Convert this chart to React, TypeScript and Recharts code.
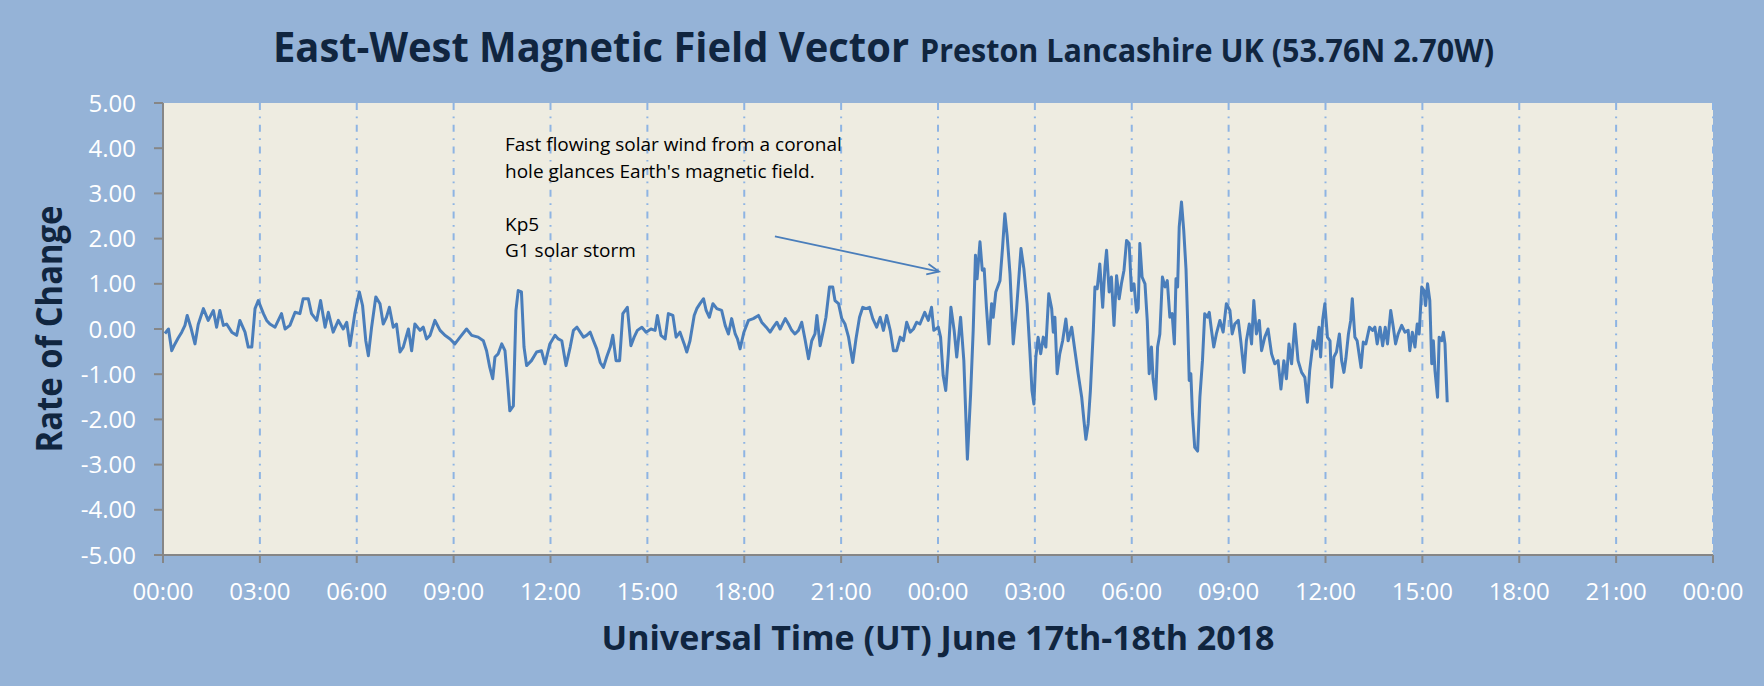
import React from 'react';
import { LineChart, Line, XAxis, YAxis, CartesianGrid, ReferenceLine } from 'recharts';

// hours since 00:00 UT on 17 June, and rate of change
const hoursA = [
  0.06, 0.17, 0.27, 0.37, 0.47, 0.58, 0.68, 0.75, 0.86, 0.99,
  1.09, 1.25, 1.4, 1.56, 1.66, 1.76, 1.87, 1.97, 2.13, 2.28,
  2.38, 2.54, 2.64, 2.75, 2.85, 2.95, 3.11, 3.21, 3.31, 3.47,
  3.67, 3.78, 3.93, 4.09, 4.24, 4.34, 4.5, 4.6, 4.76, 4.88,
  5.02, 5.12, 5.27, 5.43, 5.58, 5.69, 5.79, 5.94, 6.08, 6.18,
  6.28, 6.36, 6.46, 6.59, 6.72, 6.82, 6.92, 7.01, 7.13, 7.23,
  7.34, 7.44, 7.6, 7.7, 7.8, 7.96, 8.06, 8.16, 8.27, 8.42,
  8.58, 8.73, 8.89, 9.04, 9.2, 9.4, 9.56, 9.76, 9.92, 10.02,
  10.12, 10.21, 10.28, 10.38, 10.49, 10.59, 10.66, 10.74, 10.85, 10.93,
  11.0, 11.1, 11.18, 11.26, 11.41, 11.57, 11.72, 11.83, 11.98, 12.14,
  12.24,
];
const rateA = [
  -0.1, 0.0, -0.48, -0.33, -0.2, -0.07, 0.08, 0.3, 0.04, -0.33,
  0.1, 0.45, 0.19, 0.41, 0.04, 0.41, 0.08, 0.11, -0.07, -0.14,
  0.19, -0.07, -0.4, -0.4, 0.45, 0.63, 0.34, 0.19, 0.11, 0.04,
  0.34, 0.0, 0.08, 0.37, 0.34, 0.67, 0.67, 0.34, 0.19, 0.63,
  0.04, 0.37, -0.07, 0.19, 0.0, 0.15, -0.37, 0.34, 0.82, 0.52,
  -0.26, -0.59, 0.04, 0.71, 0.56, 0.11, 0.26, 0.48, 0.04, 0.11,
  -0.51, -0.4, 0.0, -0.48, 0.11, -0.03, 0.04, -0.22, -0.14, 0.19,
  -0.03, -0.14, -0.22, -0.33, -0.18, 0.0, -0.14, -0.18, -0.26, -0.48,
  -0.85, -1.1, -0.62, -0.55, -0.33, -0.48, -1.07, -1.81, -1.7, 0.41,
  0.85, 0.82, -0.4, -0.81, -0.7, -0.51, -0.48, -0.77, -0.33, -0.14,
  -0.22,
];

const hoursB = [
  12.35, 12.48, 12.61, 12.71, 12.82, 12.92, 13.02, 13.12, 13.23, 13.33,
  13.43, 13.54, 13.64, 13.74, 13.85, 13.93, 14.03, 14.14, 14.24, 14.38,
  14.49, 14.59, 14.69, 14.83, 14.96, 15.11, 15.24, 15.31, 15.42, 15.55,
  15.65, 15.79, 15.89, 16.01, 16.14, 16.22, 16.32, 16.45, 16.53, 16.63,
  16.74, 16.82, 16.92, 17.03, 17.15, 17.3, 17.41, 17.51, 17.61, 17.72,
  17.79, 17.87, 17.99, 18.13, 18.28, 18.44, 18.54, 18.68, 18.8, 18.9,
  19.01, 19.11, 19.27, 19.37, 19.47, 19.57, 19.68, 19.78, 19.88, 19.99,
  20.09, 20.19, 20.25, 20.35, 20.45, 20.53, 20.64, 20.74, 20.81, 20.92,
  21.02, 21.12, 21.23, 21.36, 21.46, 21.57, 21.67, 21.77, 21.88, 21.98,
  22.1, 22.21, 22.31, 22.41, 22.52, 22.62, 22.72, 22.83, 22.93, 23.03,
  23.14, 23.24, 23.34,
];
const rateB = [
  -0.26, -0.81, -0.4, -0.03, 0.04, -0.07, -0.18, -0.14, -0.07, -0.26,
  -0.44, -0.74, -0.85, -0.62, -0.4, -0.14, -0.7, -0.7, 0.34, 0.48,
  -0.37, -0.18, -0.03, 0.04, -0.07, 0.0, -0.03, 0.3, -0.14, -0.22,
  0.34, 0.3, -0.18, -0.07, -0.33, -0.51, -0.26, 0.3, 0.45, 0.56,
  0.67, 0.41, 0.26, 0.56, 0.45, 0.41, 0.08, -0.11, 0.23, -0.11,
  -0.22, -0.44, -0.07, 0.19, 0.23, 0.3, 0.15, 0.04, -0.07, 0.04,
  0.15, 0.0, 0.23, 0.11, -0.03, -0.11, -0.03, 0.15, -0.22, -0.66,
  -0.26, -0.11, 0.3, -0.37, -0.03, 0.26, 0.93, 0.93, 0.63, 0.56,
  0.23, 0.11, -0.18, -0.74, -0.22, 0.26, 0.48, 0.45, 0.48, 0.23,
  0.04, 0.26, -0.03, 0.3, -0.03, -0.48, -0.48, -0.18, -0.26, 0.15,
  -0.07, 0.0, 0.15,
];

const hoursC = [
  23.44, 23.59, 23.7, 23.8, 23.87, 24.01, 24.08, 24.16, 24.24, 24.32,
  24.4, 24.5, 24.58, 24.7, 24.8, 24.91, 25.01, 25.09, 25.16, 25.21,
  25.3, 25.37, 25.43, 25.5, 25.58, 25.66, 25.71, 25.79, 25.92, 26.0,
  26.07, 26.14, 26.23, 26.33, 26.43, 26.57, 26.66, 26.76, 26.85, 26.91,
  26.97, 27.03, 27.1, 27.18, 27.26, 27.34, 27.43, 27.52, 27.57, 27.62,
  27.69, 27.77, 27.86, 27.96, 28.03, 28.14, 28.24, 28.34, 28.45, 28.52,
  28.58, 28.65, 28.72, 28.81, 28.86, 28.93, 29.01, 29.1, 29.17, 29.22,
  29.3, 29.37, 29.45, 29.53, 29.61, 29.68, 29.76, 29.84, 29.92, 29.99,
  30.07, 30.15, 30.2, 30.25, 30.32, 30.41, 30.48, 30.54, 30.61, 30.66,
  30.74, 30.8, 30.87, 30.95, 31.03, 31.1, 31.18, 31.25, 31.32, 31.37,
  31.42, 31.47, 31.54, 31.61, 31.68, 31.73, 31.78, 31.83, 31.88, 31.95,
  32.04, 32.11, 32.19, 32.26, 32.34, 32.4, 32.47, 32.54, 32.62, 32.73,
  32.83, 32.93, 33.04, 33.11, 33.19, 33.3, 33.38, 33.48, 33.55, 33.64,
  33.71, 33.78, 33.86, 33.95, 34.02, 34.12, 34.22, 34.33, 34.43, 34.53,
  34.62, 34.71, 34.79, 34.87, 34.95, 35.05, 35.15, 35.26, 35.36, 35.44,
  35.51, 35.62, 35.72, 35.8,
];
const rateC = [
  0.11, 0.37, 0.19, 0.48, -0.03, 0.04, -0.18, -1.03, -1.36, -0.55,
  0.48, -0.03, -0.62, 0.26, -0.7, -2.88, -1.44, -0.03, 1.63, 1.11,
  1.93, 1.3, 1.33, 0.48, -0.33, 0.56, 0.26, 0.82, 1.07, 1.81,
  2.55, 2.07, 1.22, -0.33, 0.41, 1.78, 1.33, 0.56, -0.55, -1.36,
  -1.66, -0.62, -0.18, -0.55, -0.18, -0.4, 0.78, 0.45, -0.07, 0.26,
  -0.99, -0.55, -0.26, 0.22, -0.26, 0.04, -0.48, -0.99, -1.51, -2.03,
  -2.44, -2.1, -1.36, -0.03, 0.93, 0.89, 1.44, 0.48, 1.37, 1.74,
  0.82, 1.15, 0.08, 1.18, 0.67, 1.0, 1.3, 1.96, 1.89, 0.85,
  1.0, 0.37, 0.45, 1.89, 1.15, 1.0, 0.19, -0.99, -0.4, -1.1,
  -1.55, -0.4, -0.11, 1.15, 0.93, 1.07, 0.26, 0.34, -0.33, 1.11,
  0.93, 2.26, 2.81, 2.18, 1.33, 0.19, -1.14, -0.99, -1.88, -2.62,
  -2.7, -1.51, -0.7, 0.34, 0.26, 0.37, -0.03, -0.4, -0.11, 0.19,
  -0.07, 0.56, 0.41, -0.11, 0.11, 0.19, -0.29, -0.96, -0.26, 0.11,
  -0.33, 0.63, -0.11, 0.19, -0.48, -0.18, 0.0, -0.55, -0.77, -0.7,
  -1.33, -0.7, -1.1, -0.33, -0.77, 0.11, -0.7, -0.96, -1.07, -1.62,
  -0.92, -0.26, -0.44, 0.04,
];

const hoursD = [
  35.85, 35.91, 35.98, 36.06, 36.14, 36.19, 36.26, 36.34, 36.43, 36.5,
  36.57, 36.63, 36.71, 36.78, 36.83, 36.91, 36.98, 37.1, 37.17, 37.25,
  37.36, 37.46, 37.53, 37.6, 37.69, 37.77, 37.85, 37.92, 38.02, 38.1,
  38.17, 38.25, 38.36, 38.46, 38.56, 38.61, 38.69, 38.77, 38.84, 38.9,
  38.98, 39.05, 39.1, 39.16, 39.23, 39.29, 39.34, 39.39, 39.47, 39.52,
  39.6, 39.65, 39.7, 39.77,
];
const rateD = [
  -0.62, 0.19, 0.56, -0.18, -0.26, -1.29, -0.62, -0.51, -0.11, -0.7,
  -0.96, -0.66, -0.11, 0.19, 0.67, -0.18, -0.26, -0.85, -0.29, -0.33,
  0.04, -0.03, 0.04, -0.33, 0.04, -0.37, 0.04, -0.33, 0.41, 0.04,
  -0.33, -0.11, 0.08, -0.07, -0.03, -0.48, -0.07, -0.4, 0.11, -0.11,
  0.93, 0.85, 0.52, 1.0, 0.63, -0.77, -0.26, -0.92, -1.51, -0.18,
  -0.26, -0.07, -0.33, -1.62,
];

const xTicks = [0, 3, 6, 9, 12, 15, 18, 21, 24, 27, 30, 33, 36, 39, 42, 45, 48];
const xTickLabels = [
  '00:00', '03:00', '06:00', '09:00', '12:00', '15:00', '18:00', '21:00',
  '00:00', '03:00', '06:00', '09:00', '12:00', '15:00', '18:00', '21:00', '00:00',
];
const yTicks = [-5, -4, -3, -2, -1, 0, 1, 2, 3, 4, 5];

// annotation arrow ends, in chart units (hours, rate)
const arrowFrom = { x: 18.95, y: 2.05 };
const arrowTo = { x: 24.03, y: 1.27 };

const noteLines = [
  'Fast flowing solar wind from a coronal',
  "hole glances Earth's magnetic field.",
  '',
  'Kp5',
  'G1 solar storm',
];

const hours = [...hoursA, ...hoursB, ...hoursC, ...hoursD];
const rates = [...rateA, ...rateB, ...rateC, ...rateD];
const data = hours.map((t, i) => ({ t, rate: rates[i] }));

const FONT = '"Open Sans", "Noto Sans", sans-serif';
const NAVY = '#10253F';
const LINE = '#4A7EBB';

const Arrow = (p: any) => {
  const { x1, y1, x2, y2 } = p;
  if (x1 == null || x2 == null) return null;
  const a = Math.atan2(y2 - y1, x2 - x1);
  const len = 13;
  const spread = 0.42;
  const ax = x2 - len * Math.cos(a - spread);
  const ay = y2 - len * Math.sin(a - spread);
  const bx = x2 - len * Math.cos(a + spread);
  const by = y2 - len * Math.sin(a + spread);
  return (
    <g>
      <line x1={x1} y1={y1} x2={x2} y2={y2} stroke={LINE} strokeWidth={1.8} />
      <polyline
        points={`${ax},${ay} ${x2},${y2} ${bx},${by}`}
        fill="none"
        stroke={LINE}
        strokeWidth={1.8}
      />
    </g>
  );
};

export default function App() {
  return (
    <div
      style={{
        position: 'absolute',
        left: 0,
        top: 0,
        width: 1764,
        height: 686,
        background: '#95B3D7',
        overflow: 'hidden',
        fontFamily: FONT,
      }}
    >
      <LineChart
        width={1764}
        height={686}
        data={data}
        margin={{ top: 103, right: 51, left: 0, bottom: 0 }}
      >
        <CartesianGrid
          horizontal={false}
          fill="#EEECE1"
          stroke="#8EB4E3"
          strokeWidth={2}
          strokeDasharray="7 6.5 1.7 6.5"
        />
        <XAxis
          dataKey="t"
          type="number"
          domain={[0, 48]}
          ticks={xTicks}
          interval={0}
          height={131}
          tickSize={8}
          tickMargin={20}
          tickFormatter={(v: number) => xTickLabels[xTicks.indexOf(v)]}
          tick={{ fill: '#FFFFFF', fontSize: 24, fontFamily: FONT }}
          axisLine={{ stroke: '#868686', strokeWidth: 2 }}
          tickLine={{ stroke: '#868686', strokeWidth: 2 }}
        />
        <YAxis
          type="number"
          domain={[-5, 5]}
          ticks={yTicks}
          interval={0}
          width={163}
          tickSize={9}
          tickMargin={18}
          tickFormatter={(v: number) => v.toFixed(2)}
          tick={{ fill: '#FFFFFF', fontSize: 24, fontFamily: FONT }}
          axisLine={{ stroke: '#868686', strokeWidth: 2 }}
          tickLine={{ stroke: '#868686', strokeWidth: 2 }}
        />
        <Line
          type="linear"
          dataKey="rate"
          stroke={LINE}
          strokeWidth={3}
          strokeLinejoin="round"
          dot={false}
          activeDot={false}
          isAnimationActive={false}
        />
        <ReferenceLine segment={[arrowFrom, arrowTo]} shape={Arrow} ifOverflow="visible" />
      </LineChart>

      <svg
        width={1764}
        height={686}
        style={{ position: 'absolute', left: 0, top: 0, pointerEvents: 'none' }}
      >
        <text x={273} y={62} fill={NAVY} fontFamily={FONT} fontWeight={700} fontSize={41}
          textLength={636} lengthAdjust="spacingAndGlyphs">
          East-West Magnetic Field Vector
        </text>
        <text x={920} y={62} fill={NAVY} fontFamily={FONT} fontWeight={700} fontSize={32}
          textLength={574} lengthAdjust="spacingAndGlyphs">
          Preston Lancashire UK (53.76N 2.70W)
        </text>
        <text transform="translate(62,329) rotate(-90)" textAnchor="middle" fill={NAVY}
          fontFamily={FONT} fontWeight={700} fontSize={35} textLength={247} lengthAdjust="spacingAndGlyphs">
          Rate of Change
        </text>
        <text x={938} y={650} textAnchor="middle" fill={NAVY} fontFamily={FONT} fontWeight={700}
          fontSize={34} textLength={673} lengthAdjust="spacingAndGlyphs">
          Universal Time (UT) June 17th-18th 2018
        </text>
        {noteLines.map((s, i) =>
          s ? (
            <text key={i} x={505} y={151 + i * 26.5} fill="#000000" fontFamily={FONT} fontSize={19}>
              {s}
            </text>
          ) : null
        )}
      </svg>
    </div>
  );
}
